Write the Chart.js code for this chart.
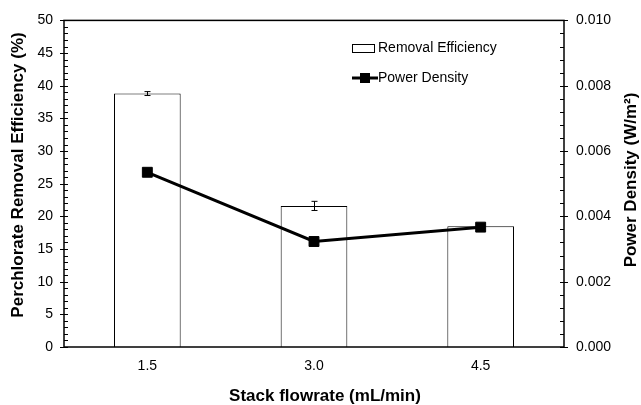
<!DOCTYPE html>
<html>
<head>
<meta charset="utf-8">
<script src="https://cdn.jsdelivr.net/npm/chart.js@4.4.1/dist/chart.umd.min.js"></script>
<style>
html, body { margin:0; padding:0; background:#fff; }
#wrap { width:641px; height:405px; }
</style>
</head>
<body>
<div id="wrap"><canvas id="chart"></canvas></div>
<script>
// DATA
const flowrates = ['1.5', '3.0', '4.5'];
const removalEfficiency = [38.8, 21.6, 18.5];
const removalError = [0.3, 0.7, 0.3];
const powerDensity = [0.00535, 0.00323, 0.00367];
const effRange = [0, 50];
const powerRange = [0, 0.010];

const FONT = "'Liberation Sans', Arial, sans-serif";
const TITLE_FONT = 'bold 17px ' + FONT;

// frame, tick marks (major + minor), error bars, legend, axis titles
const extrasPlugin = {
    id: 'extras',
    afterDatasetsDraw(chart) {
        const ctx = chart.ctx;
        const a = chart.chartArea;
        const yL = chart.scales.y;
        const yR = chart.scales.y1;
        ctx.save();
        ctx.strokeStyle = '#000';
        ctx.lineWidth = 1;

        // error bars on the bars
        const barMeta = chart.getDatasetMeta(1);
        removalError.forEach((err, i) => {
            const bx = Math.round(barMeta.data[i].x) + 0.5;
            const top = yL.getPixelForValue(removalEfficiency[i] + err);
            const bot = yL.getPixelForValue(removalEfficiency[i] - err);
            ctx.beginPath();
            ctx.moveTo(bx, top); ctx.lineTo(bx, bot);
            ctx.moveTo(bx - 3, top); ctx.lineTo(bx + 3, top);
            ctx.moveTo(bx - 3, bot); ctx.lineTo(bx + 3, bot);
            ctx.stroke();
        });

        // frame
        ctx.lineWidth = 1.5;
        ctx.strokeRect(a.left, a.top, a.right - a.left, a.bottom - a.top);

        ctx.lineWidth = 1;
        ctx.beginPath();
        // left axis ticks
        for (let v = effRange[0]; v <= effRange[1]; v += 1) {
            const py = Math.round(yL.getPixelForValue(v)) + 0.5;
            if (v % 5 === 0) { ctx.moveTo(a.left - 4, py); ctx.lineTo(a.left + 4, py); }
            else { ctx.moveTo(a.left, py); ctx.lineTo(a.left + 4, py); }
        }
        // right axis ticks
        for (let k = 0; k <= 25; k++) {
            const v = k * 0.0004;
            const py = Math.round(yR.getPixelForValue(v)) + 0.5;
            if (k % 5 === 0) { ctx.moveTo(a.right - 4, py); ctx.lineTo(a.right + 4, py); }
            else { ctx.moveTo(a.right - 4, py); ctx.lineTo(a.right, py); }
        }
        ctx.stroke();

        // legend
        const lx = 352, ly1 = 48, ly2 = 78;
        ctx.fillStyle = '#fff';
        ctx.fillRect(lx, ly1 - 4, 22, 8);
        ctx.strokeRect(lx + 0.5, ly1 - 4 + 0.5, 22, 8);
        ctx.lineWidth = 3;
        ctx.beginPath();
        ctx.moveTo(lx, ly2); ctx.lineTo(lx + 26, ly2);
        ctx.stroke();
        ctx.fillStyle = '#000';
        ctx.fillRect(lx + 8, ly2 - 5, 10, 10);
        ctx.font = '14px ' + FONT;
        ctx.textBaseline = 'middle';
        ctx.textAlign = 'left';
        ctx.fillText('Removal Efficiency', lx + 26, ly1);
        ctx.fillText('Power Density', lx + 26, ly2);

        // axis titles
        ctx.font = TITLE_FONT;
        ctx.textAlign = 'center';
        ctx.fillText('Stack flowrate (mL/min)', 325, 396);

        ctx.save();
        ctx.translate(18, 175);
        ctx.rotate(-Math.PI / 2);
        ctx.fillText('Perchlorate Removal Efficiency (%)', 0, 0);
        ctx.restore();

        ctx.save();
        ctx.translate(631, 180);
        ctx.rotate(-Math.PI / 2);
        ctx.fillText('Power Density (W/m²)', 0, 0);
        ctx.restore();

        ctx.restore();
    }
};

const ctx = document.getElementById('chart');
new Chart(ctx, {
    data: {
        labels: flowrates,
        datasets: [
            {
                type: 'line',
                label: 'Power Density',
                data: powerDensity,
                yAxisID: 'y1',
                borderColor: '#000',
                borderWidth: 3,
                pointStyle: 'rect',
                pointRadius: 7,
                pointBackgroundColor: '#000',
                pointBorderColor: '#000',
                pointBorderWidth: 1,
                tension: 0,
                order: 0
            },
            {
                type: 'bar',
                label: 'Removal Efficiency',
                data: removalEfficiency,
                yAxisID: 'y',
                backgroundColor: '#fff',
                borderColor: '#000',
                borderWidth: 1,
                categoryPercentage: 1,
                barPercentage: 0.4,
                order: 1
            }
        ]
    },
    options: {
        responsive: true,
        maintainAspectRatio: false,
        animation: false,
        layout: { padding: { top: 16, left: 0, right: 0, bottom: 0 } },
        plugins: { legend: { display: false }, tooltip: { enabled: false } },
        scales: {
            x: {
                grid: { display: false, drawTicks: false },
                border: { display: false },
                ticks: { color: '#000', font: { family: FONT, size: 14 }, padding: 11 },
                afterFit(scale) { scale.height = 58; }
            },
            y: {
                position: 'left',
                min: effRange[0], max: effRange[1],
                grid: { display: false, drawTicks: false },
                border: { display: false },
                ticks: { stepSize: 5, color: '#000', font: { family: FONT, size: 14 }, padding: 11 },
                afterFit(scale) { scale.width = 64; }
            },
            y1: {
                position: 'right',
                min: powerRange[0], max: powerRange[1],
                grid: { display: false, drawTicks: false },
                border: { display: false },
                ticks: {
                    stepSize: 0.002, color: '#000', font: { family: FONT, size: 14 }, padding: 12,
                    callback: v => v.toFixed(3)
                },
                afterFit(scale) { scale.width = 77; }
            }
        }
    },
    plugins: [extrasPlugin]
});
</script>
</body>
</html>
